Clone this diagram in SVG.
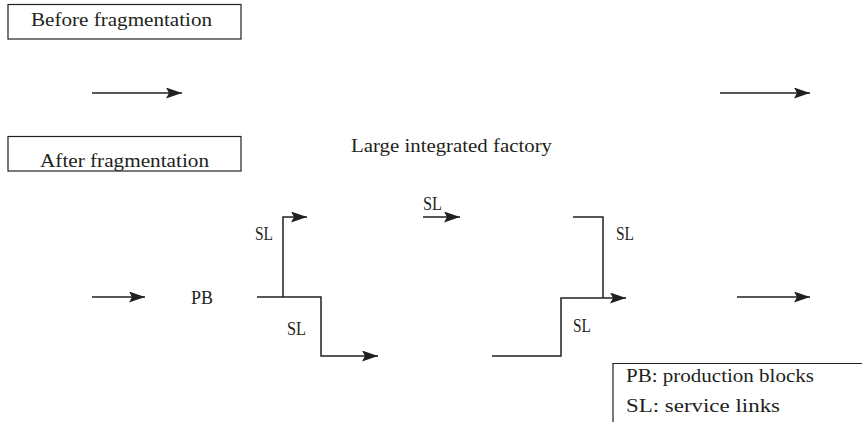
<svg xmlns="http://www.w3.org/2000/svg" width="862" height="422" viewBox="0 0 862 422">
<style>
text{font-family:"Liberation Serif","Times New Roman",serif;fill:#231f20;font-size:19px}
.box{fill:#fff;stroke:#231f20;stroke-width:1.2}
.ln{fill:none;stroke:#231f20;stroke-width:1.5}
</style>
<defs>
<marker id="ah" markerWidth="16" markerHeight="11" refX="16" refY="5.5" orient="auto" markerUnits="userSpaceOnUse">
<path d="M0,0 L16,5.5 L0,11 L3,5.5 Z" fill="#231f20"/>
</marker>
</defs>
<rect width="862" height="422" fill="#fff"/>
<g id="before-label">
<rect class="box" x="8" y="4.5" width="233" height="34.5"/>
<text x="31" y="26" textLength="181" lengthAdjust="spacingAndGlyphs">Before fragmentation</text>
</g>
<g id="after-label">
<rect class="box" x="8" y="136.5" width="233" height="34.5"/>
<text x="40" y="166.5" textLength="169" lengthAdjust="spacingAndGlyphs">After fragmentation</text>
</g>
<g id="factory">
<text x="351" y="152" textLength="201" lengthAdjust="spacingAndGlyphs">Large integrated factory</text>
</g>
<g id="pb">
<text x="191" y="304" textLength="22" lengthAdjust="spacingAndGlyphs">PB</text>
</g>
<g id="sl-labels">
<text x="255" y="240" textLength="18" lengthAdjust="spacingAndGlyphs">SL</text>
<text x="287" y="335" textLength="19" lengthAdjust="spacingAndGlyphs">SL</text>
<text x="423" y="210" textLength="19" lengthAdjust="spacingAndGlyphs">SL</text>
<text x="616" y="240" textLength="18" lengthAdjust="spacingAndGlyphs">SL</text>
<text x="573" y="332" textLength="18" lengthAdjust="spacingAndGlyphs">SL</text>
</g>
<g id="legend">
<path class="box" d="M613,422 V363.5 H870"/>
<text x="626" y="382" textLength="188" lengthAdjust="spacingAndGlyphs">PB: production blocks</text>
<text x="626" y="412" textLength="154" lengthAdjust="spacingAndGlyphs">SL: service links</text>
</g>
<g id="connectors">
<path class="ln" d="M92,93 H182" marker-end="url(#ah)"/>
<path class="ln" d="M720,93 H810" marker-end="url(#ah)"/>
<path class="ln" d="M92,297 H145" marker-end="url(#ah)"/>
<path class="ln" d="M737,297 H810" marker-end="url(#ah)"/>
<path class="ln" d="M283,297 V217 H307" marker-end="url(#ah)"/>
<path class="ln" d="M257,297 H321 V356 H378" marker-end="url(#ah)"/>
<path class="ln" d="M423,217 H460" marker-end="url(#ah)"/>
<path class="ln" d="M573,217 H603 V298"/>
<path class="ln" d="M492,356 H561 V298 H626" marker-end="url(#ah)"/>
</g>
</svg>
